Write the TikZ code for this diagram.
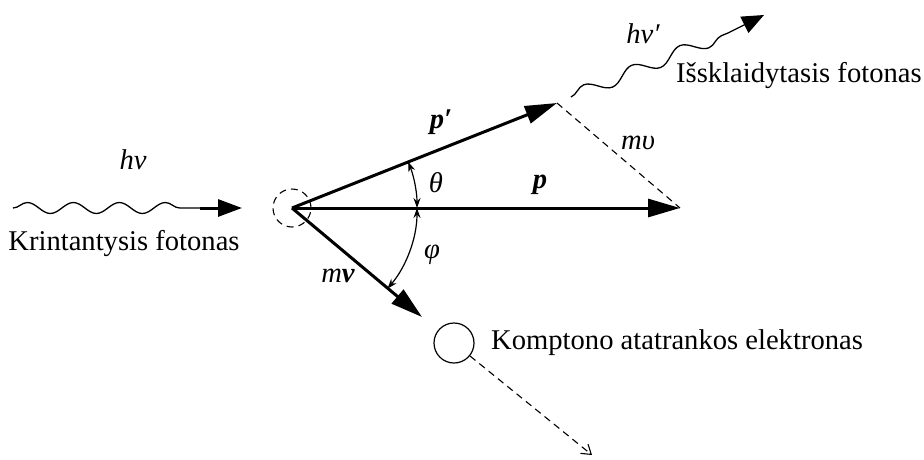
\documentclass[tikz,border=0pt]{standalone}
\usepackage{fontspec}
\setmainfont{Liberation Serif}
\usetikzlibrary{arrows.meta,decorations.pathmorphing}
\begin{document}
\begin{tikzpicture}[x=1pt,y=1pt,
  every node/.style={font=\fontsize{28.6}{32}\selectfont, inner sep=0pt},
  vec/.style={line width=3pt, -{Triangle[length=32pt,width=18pt]}},
  wave/.style={line width=1.3pt, decorate, decoration={snake, amplitude=5.5pt, segment length=46pt}},
  anglearc/.style={line width=1.2pt, {Stealth[length=10pt,width=7pt]}-{Stealth[length=10pt,width=7pt]}},
  thindash/.style={line width=1.1pt, dash pattern=on 7pt off 5pt}]
\useasboundingbox (0,0) rectangle (924,-459);
% main points
\node[circle, draw, thindash, minimum size=38pt] (O) at (292,-208) {};
\coordinate (P) at (680,-208);
\coordinate (Pp) at (557,-103);
\coordinate (V) at (422,-317);
\node[circle, draw, line width=1.2pt, minimum size=40pt] (E) at (454,-343) {};
\coordinate (Eend) at (592,-455);
% incoming photon
\coordinate (Win) at (13,-208);
\coordinate (Wmid) at (200,-208);
\coordinate (Wtip) at (242,-208);
\draw[wave] (Win) -- (Wmid);
\draw[line width=3pt, -{Triangle[length=24pt,width=17pt]}] (Wmid) -- (Wtip);
% scattered photon
\coordinate (Sin) at (571,-97);
\coordinate (Smid) at (728,-33);
\coordinate (Stip) at (764,-15);
\draw[wave, decoration={snake, amplitude=6.5pt, segment length=52pt}] (Sin) -- (Smid);
\draw[line width=1.3pt, -{Triangle[length=22pt,width=18pt]}] (Smid) -- (Stip);
% vectors
\draw[vec] (O.center) -- (P);
\draw[vec] (O.center) -- (Pp);
\draw[vec] (O.center) -- (V);
\draw[thindash] (Pp) -- (P);
\draw[thindash, -{Straight Barb[length=9pt,width=12pt]}] (E) -- (Eend);
% angles
\draw[anglearc] ([shift={(0:125pt)}]O.center) arc[start angle=0, end angle=21.7, radius=125pt];
\draw[anglearc] ([shift={(0:125pt)}]O.center) arc[start angle=0, end angle=-40.2, radius=125pt];
% labels
\node (lhv) at (133,-160) {\itshape hν};
\node (lin) at (124,-244) {Krintantysis fotonas};
\node (lhvp) at (643,-34) {\itshape hν′};
\node[anchor=west] (lout) at (676,-76) {Išsklaidytasis fotonas};
\node (lpp) at (441,-122) {\bfseries\itshape p′};
\node (lmu) at (638,-143) {\itshape mυ};
\node (lth) at (436,-183) {\itshape θ};
\node (lp) at (540,-185) {\bfseries\itshape p};
\node (lphi) at (432,-255) {\itshape φ};
\node (lmv) at (338,-276) {\itshape m\bfseries v};
\node[anchor=west] (lel) at (491,-343) {Komptono atatrankos elektronas};
\end{tikzpicture}
\end{document}
